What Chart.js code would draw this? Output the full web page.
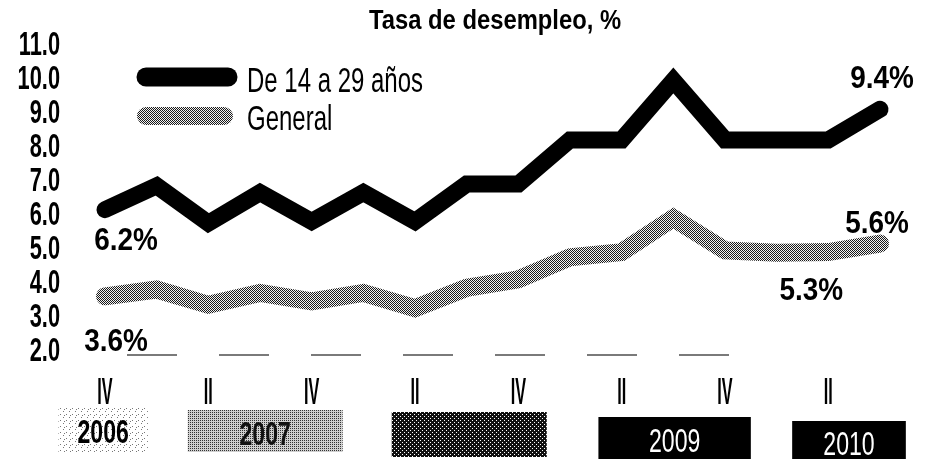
<!DOCTYPE html>
<html>
<head>
<meta charset="utf-8">
<script src="https://cdn.jsdelivr.net/npm/chart.js@4.4.1/dist/chart.umd.min.js"></script>
<style>
  html, body { margin: 0; padding: 0; background: #fff; }
  #wrap { width: 932px; height: 459px; position: relative; }
</style>
</head>
<body>
<div id="wrap"><canvas id="c" width="932" height="459"></canvas></div>
<script>
// ---------------- DATA ----------------
const chartTitle = 'Tasa de desempleo, %';
const categories = ['2006-IV','2007-I','2007-II','2007-III','2007-IV','2008-I','2008-II','2008-III',
                    '2008-IV','2009-I','2009-II','2009-III','2009-IV','2010-I','2010-II','2010-III'];
const quarterTicks = ['IV','','II','','IV','','II','','IV','','II','','IV','','II',''];
const yTickValues = [2, 3, 4, 5, 6, 7, 8, 9, 10, 11];
const youthName = 'De 14 a 29 años';
const generalName = 'General';
const youth   = [6.1, 6.8, 5.7, 6.6, 5.75, 6.6, 5.75, 6.85, 6.85, 8.15, 8.15, 9.9, 8.15, 8.15, 8.15, 9.05];
const general = [3.55, 3.75, 3.3, 3.65, 3.4, 3.65, 3.2, 3.8, 4.05, 4.7, 4.85, 5.85, 4.9, 4.83, 4.85, 5.1];
const years = ['2006', '2007', '2008', '2009', '2010'];
// year band extents in quarter-index units
const yearFrom = [-0.9, 1.6, 5.55, 9.55, 13.3];
const yearTo   = [0.83, 4.6, 8.55, 12.5, 15.5];
// printed value notes
const noteSeries = ['youth', 'general', 'youth', 'general', 'general'];
const noteIndex  = [0, 0, 15, 15, 14];
const noteText   = ['6.2%', '3.6%', '9.4%', '5.6%', '5.3%'];

// ---------------- STYLE / LAYOUT ----------------
const FONT = '"Liberation Sans", Arial, sans-serif';
const noteOffset = [[21, 40], [11, 55], [2, -21], [-3, -11], [-17, 48]]; // [dx, baseline dy] from point
const yearStyle = [
  { top: 408, bottom: 452, base: 443, color: '#000', weight: 'bold', show: true },
  { top: 410, bottom: 452, base: 445, color: '#111', weight: 'bold', show: true },
  { top: 412, bottom: 457, base: 446, color: '#000', weight: 'bold', show: false },
  { top: 417, bottom: 459, base: 452, color: '#fff', weight: 'normal', show: true },
  { top: 421, bottom: 459, base: 455, color: '#fff', weight: 'normal', show: true }
];

const canvas = document.getElementById('c');
const mainCtx = canvas.getContext('2d');

function makePattern(w, h, bg, dots, dotColor) {
  const t = document.createElement('canvas');
  t.width = w; t.height = h;
  const x = t.getContext('2d');
  x.fillStyle = bg; x.fillRect(0, 0, w, h);
  x.fillStyle = dotColor;
  dots.forEach(([a, b]) => x.fillRect(a, b, 1, 1));
  return mainCtx.createPattern(t, 'repeat');
}
const generalPattern = makePattern(2, 2, '#f2f2f2', [[0,0],[1,1]], '#1a1a1a');
const yearFills = [
  makePattern(6, 6, '#ffffff', [[0,0],[3,3],[4,1]], '#777'),
  makePattern(2, 2, '#d0d0d0', [[0,0]], '#333'),
  makePattern(4, 4, '#111111', [[0,0],[2,2]], '#fff'),
  '#000',
  '#000'
];

function txt(ctx, s, x, y, o) {
  ctx.save();
  ctx.font = `${o.weight || 'normal'} ${o.size}px ${FONT}`;
  ctx.fillStyle = o.color || '#000';
  ctx.textBaseline = 'alphabetic';
  ctx.textAlign = 'left';
  const sx = o.sx || 1;
  const w = ctx.measureText(s).width * sx;
  const left = o.align === 'center' ? x - w / 2 : (o.align === 'right' ? x - w : x);
  ctx.translate(left, y);
  ctx.scale(sx, 1);
  ctx.fillText(s, 0, 0);
  ctx.restore();
}

const decor = {
  id: 'decor',
  beforeDatasetsDraw(chart) {
    const ctx = chart.ctx, xs = chart.scales.x, ys = chart.scales.y, ca = chart.chartArea;
    // dashed baseline
    ctx.save();
    ctx.strokeStyle = '#7a7a7a'; ctx.lineWidth = 2; ctx.setLineDash([50, 42]);
    ctx.beginPath(); ctx.moveTo(127, ca.bottom + 6); ctx.lineTo(745, ca.bottom + 6); ctx.stroke();
    ctx.restore();
    // year boxes
    years.forEach((yr, i) => {
      const x0 = xs.getPixelForValue(yearFrom[i]);
      const x1 = xs.getPixelForValue(yearTo[i]);
      const st = yearStyle[i];
      ctx.save();
      ctx.fillStyle = yearFills[i];
      ctx.fillRect(x0, st.top, x1 - x0, st.bottom - st.top);
      ctx.restore();
      if (st.show) txt(ctx, yr, (x0 + x1) / 2, st.base, { size: 34, sx: 0.68, weight: st.weight, color: st.color, align: 'center' });
    });
  },
  afterDatasetsDraw(chart) {
    const ctx = chart.ctx, xs = chart.scales.x, ys = chart.scales.y;
    // title
    txt(ctx, chartTitle, 495, 29, { size: 28, sx: 0.85, weight: 'bold', align: 'center' });
    // y tick labels
    yTickValues.forEach(v => {
      txt(ctx, v.toFixed(1), 60, ys.getPixelForValue(v) + 12, { size: 33, sx: 0.66, weight: 'bold', align: 'right' });
    });
    // x tick labels
    quarterTicks.forEach((q, i) => {
      if (q) txt(ctx, q, xs.getPixelForValue(i), 404, { size: 36, sx: 0.45, weight: 'bold', align: 'center' });
    });
    // legend
    ctx.save();
    ctx.lineCap = 'round';
    ctx.strokeStyle = '#000'; ctx.lineWidth = 19;
    ctx.beginPath(); ctx.moveTo(146, 77); ctx.lineTo(228, 77); ctx.stroke();
    ctx.strokeStyle = generalPattern; ctx.lineWidth = 18;
    ctx.beginPath(); ctx.moveTo(146, 116); ctx.lineTo(224, 116); ctx.stroke();
    ctx.restore();
    txt(ctx, youthName, 247, 92, { size: 35, sx: 0.685 });
    txt(ctx, generalName, 247, 130, { size: 35, sx: 0.685 });
    // value notes
    noteText.forEach((t, k) => {
      const data = noteSeries[k] === 'youth' ? youth : general;
      const i = noteIndex[k];
      const px = xs.getPixelForValue(i), py = ys.getPixelForValue(data[i]);
      txt(ctx, t, px + noteOffset[k][0], py + noteOffset[k][1], { size: 31, sx: 0.9, weight: 'bold', align: 'center' });
    });
  }
};

new Chart(canvas, {
  type: 'line',
  data: {
    labels: categories,
    datasets: [
      {
        label: generalName, data: general,
        borderColor: generalPattern, backgroundColor: generalPattern,
        borderWidth: 18, pointRadius: 0, tension: 0,
        borderCapStyle: 'round', borderJoinStyle: 'miter', clip: false, fill: false
      },
      {
        label: youthName, data: youth,
        borderColor: '#000', backgroundColor: '#000',
        borderWidth: 17, pointRadius: 0, tension: 0,
        borderCapStyle: 'round', borderJoinStyle: 'miter', clip: false, fill: false
      }
    ]
  },
  options: {
    responsive: false,
    animation: false,
    devicePixelRatio: 1,
    layout: { padding: { left: 105, right: 52, top: 43, bottom: 110 } },
    scales: {
      x: { type: 'category', display: false, offset: false },
      y: { display: false, min: 2, max: 11 }
    },
    plugins: { legend: { display: false }, tooltip: { enabled: false }, title: { display: false } },
    events: []
  },
  plugins: [decor]
});
</script>
</body>
</html>
